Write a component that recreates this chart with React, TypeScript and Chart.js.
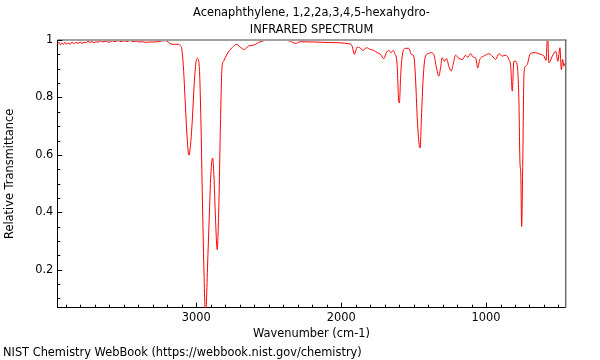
import React, { useEffect, useRef } from "react";
import { Chart, registerables } from "chart.js";

Chart.register(...registerables);

const FONT = "'DejaVu Sans', sans-serif";
const FS = 11.4;

const TITLE_LINES = ["Acenaphthylene, 1,2,2a,3,4,5-hexahydro-", "INFRARED SPECTRUM"];
const X_LABEL = "Wavenumber (cm-1)";
const Y_LABEL = "Relative Transmittance";
const FOOTER = "NIST Chemistry WebBook (https://webbook.nist.gov/chemistry)";

const X_TICKS = [3000, 2000, 1000];
const Y_TICKS = [0.2, 0.4, 0.6, 0.8, 1];
const X_MIN = 450;
const X_MAX = 3960;
const Y_MIN = 0.068;
const Y_MAX = 1.0;

const wavenumbers = [
  3959, 3948, 3938, 3928, 3917, 3907, 3896, 3886, 3872, 3858,
  3845, 3831, 3817, 3803, 3789, 3775, 3762, 3748, 3734, 3720,
  3706, 3692, 3679, 3665, 3644, 3623, 3603, 3582, 3561, 3540,
  3520, 3499, 3478, 3457, 3437, 3416, 3395, 3374, 3347, 3319,
  3292, 3264, 3236, 3215, 3195, 3174, 3146, 3124, 3112, 3100,
  3089, 3077, 3065, 3052, 3038, 3027, 3015, 3003, 2992, 2980,
  2969, 2958, 2948, 2941, 2936, 2931, 2923, 2911, 2900, 2888,
  2879, 2868, 2856, 2844, 2835, 2823, 2812, 2789, 2754, 2720,
  2697, 2669, 2640, 2605, 2559, 2512, 2420, 2351, 2317, 2282,
  2190, 2075, 1948, 1925, 1909, 1890, 1872, 1849, 1826, 1798,
  1776, 1752, 1729, 1706, 1688, 1672, 1655, 1641, 1630, 1614,
  1603, 1598, 1589, 1575, 1556, 1534, 1515, 1499, 1487, 1475,
  1462, 1455, 1446, 1434, 1418, 1395, 1384, 1361, 1342, 1326,
  1314, 1303, 1287, 1273, 1257, 1240, 1227, 1211, 1188, 1164,
  1142, 1126, 1107, 1088, 1072, 1057, 1043, 1015, 980, 957,
  934, 911, 888, 865, 842, 830, 819, 808, 796, 784,
  773, 766, 760, 754, 747, 738, 727, 715, 697, 669,
  623, 600, 586, 575, 566, 542, 519, 504, 490, 480,
  471, 462, 452,
];

const transmittance = [
  0.986, 0.992, 0.983, 0.990, 0.985, 0.992, 0.985, 0.990, 0.985, 0.993,
  0.986, 0.992, 0.988, 0.993, 0.988, 0.992, 0.990, 0.996, 0.991, 0.995,
  0.990, 0.994, 0.992, 0.997, 0.993, 0.996, 0.992, 0.997, 0.994, 0.998,
  0.994, 0.997, 0.995, 0.998, 0.994, 0.996, 0.993, 0.994, 0.992, 0.993,
  0.993, 0.994, 0.997, 0.998, 0.993, 0.986, 0.985, 0.985, 0.981, 0.967,
  0.903, 0.787, 0.671, 0.599, 0.647, 0.729, 0.845, 0.921, 0.936, 0.909,
  0.730, 0.438, 0.207, 0.078, 0.05, 0.078, 0.207, 0.381, 0.531, 0.589,
  0.531, 0.381, 0.270, 0.438, 0.671, 0.903, 0.926, 0.950, 0.973, 0.985,
  0.975, 0.967, 0.979, 0.982, 0.994, 0.999, 1.0, 0.996, 0.988, 0.994,
  0.993, 0.991, 0.987, 0.979, 0.950, 0.975, 0.973, 0.964, 0.973, 0.967,
  0.964, 0.956, 0.950, 0.935, 0.956, 0.964, 0.956, 0.964, 0.953, 0.915,
  0.787, 0.781, 0.880, 0.956, 0.971, 0.971, 0.950, 0.944, 0.868, 0.729,
  0.636, 0.624, 0.729, 0.868, 0.944, 0.953, 0.956, 0.950, 0.903, 0.874,
  0.903, 0.938, 0.926, 0.936, 0.909, 0.892, 0.915, 0.947, 0.936, 0.932,
  0.947, 0.940, 0.952, 0.940, 0.938, 0.903, 0.932, 0.944, 0.952, 0.944,
  0.932, 0.952, 0.944, 0.947, 0.932, 0.909, 0.822, 0.926, 0.926, 0.909,
  0.787, 0.578, 0.531, 0.351, 0.556, 0.880, 0.909, 0.915, 0.950, 0.956,
  0.950, 0.944, 0.929, 1.02, 0.921, 0.944, 0.961, 0.926, 0.973, 0.897,
  0.932, 0.909, 0.921,
];

const framePlugin = {
  id: "frame",
  afterDraw(chart: any) {
    const { ctx, chartArea: a, scales } = chart;
    const xs = scales.x;
    const ys = scales.y;
    ctx.save();
    ctx.strokeStyle = "#a0a0a0";
    ctx.lineWidth = 2;
    ctx.beginPath();
    ctx.moveTo(a.left, a.top);
    ctx.lineTo(a.right + 1, a.top);
    ctx.stroke();
    ctx.strokeStyle = "#707070";
    ctx.lineWidth = 1.5;
    ctx.beginPath();
    ctx.moveTo(a.right, a.top);
    ctx.lineTo(a.right, a.bottom);
    ctx.stroke();
    ctx.strokeStyle = "#000";
    ctx.lineWidth = 1;
    for (let v = 500; v <= 3900; v += 100) {
      const px = Math.round(xs.getPixelForValue(v)) + 0.5;
      const len = v % 1000 === 0 ? 5 : 3;
      ctx.beginPath();
      ctx.moveTo(px, a.bottom);
      ctx.lineTo(px, a.bottom - len);
      ctx.stroke();
    }
    for (let k = 2; k <= 20; k++) {
      const v = k * 0.05;
      if (v < Y_MIN || v > Y_MAX) continue;
      const py = Math.round(ys.getPixelForValue(v)) + 0.5;
      const len = k % 4 === 0 ? 5 : 3;
      ctx.beginPath();
      ctx.moveTo(a.left, py);
      ctx.lineTo(a.left + len, py);
      ctx.stroke();
    }
    ctx.restore();
  },
};

export default function App() {
  const ref = useRef<HTMLCanvasElement>(null);

  useEffect(() => {
    const canvas = ref.current;
    if (!canvas) return;
    const points = wavenumbers.map((w, i) => ({ x: w, y: transmittance[i] }));
    const font = { family: FONT, size: FS, weight: "normal" as const, lineHeight: 1.2 };

    const chart = new Chart(canvas, {
      type: "line",
      data: {
        datasets: [
          {
            data: points,
            borderColor: "rgb(255,0,0)",
            borderWidth: 1,
            pointRadius: 0,
            cubicInterpolationMode: "monotone",
            fill: false,
          },
        ],
      },
      options: {
        responsive: false,
        maintainAspectRatio: false,
        animation: false,
        layout: { padding: { left: 3, right: 34.3, top: 0, bottom: 0 } },
        plugins: {
          legend: { display: false },
          tooltip: { enabled: false },
          title: {
            display: true,
            text: TITLE_LINES,
            fullSize: false,
            color: "#000",
            font: { family: FONT, size: FS, weight: "normal", lineHeight: 17 / FS },
            padding: { top: 4.5, bottom: 1.5 },
          },
          subtitle: {
            display: true,
            position: "bottom",
            align: "start",
            text: FOOTER,
            color: "#000",
            font,
            padding: { top: 4, bottom: 0.16 },
          },
        },
        scales: {
          x: {
            type: "linear",
            reverse: true,
            min: X_MIN,
            max: X_MAX,
            afterBuildTicks: (s: any) => {
              s.ticks = X_TICKS.map((v) => ({ value: v }));
            },
            afterFit: (s: any) => {
              s.height = 34.5;
            },
            grid: { display: true, drawOnChartArea: false, drawTicks: false },
            border: { display: true, color: "#000", width: 1 },
            ticks: {
              padding: 4,
              color: "#000",
              font,
              maxRotation: 0,
              autoSkip: false,
              callback: (v: any) => String(v),
            },
            title: {
              display: true,
              text: X_LABEL,
              color: "#000",
              font,
              padding: { top: 0, bottom: 1.5 },
            },
          },
          y: {
            type: "linear",
            min: Y_MIN,
            max: Y_MAX,
            afterBuildTicks: (s: any) => {
              s.ticks = Y_TICKS.map((v) => ({ value: v }));
            },
            afterFit: (s: any) => {
              s.width = 54.3;
            },
            grid: { display: true, drawOnChartArea: false, drawTicks: false },
            border: { display: true, color: "#000", width: 1 },
            ticks: {
              padding: 4,
              color: "#000",
              font,
              autoSkip: false,
              callback: (v: any) => String(Math.round(Number(v) * 100) / 100),
            },
            title: {
              display: true,
              text: Y_LABEL,
              color: "#000",
              font,
              padding: { top: 0.7, bottom: 0 },
            },
          },
        },
      },
      plugins: [framePlugin],
    } as any);

    return () => chart.destroy();
  }, []);

  return (
    <div style={{ position: "absolute", left: 0, top: 0, width: 600, height: 360, background: "#fff" }}>
      <canvas ref={ref} width={600} height={360} style={{ display: "block" }} />
    </div>
  );
}
